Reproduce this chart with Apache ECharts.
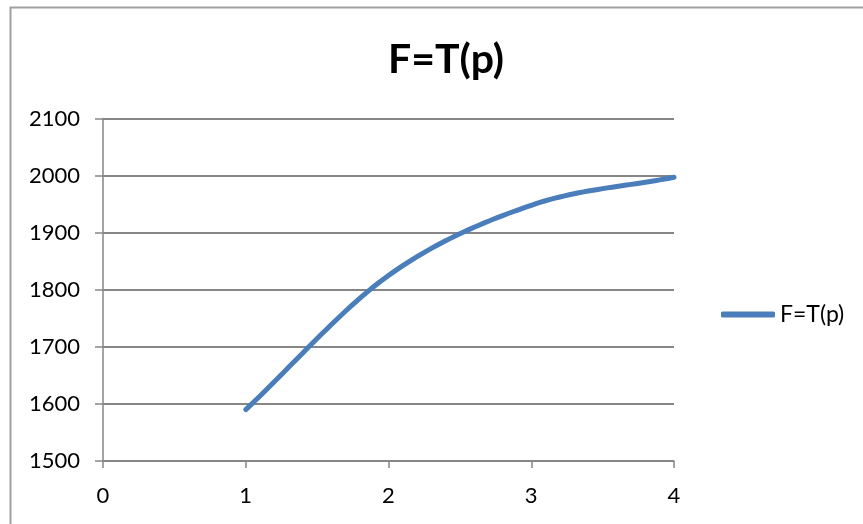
<!DOCTYPE html>
<html>
<head>
<meta charset="utf-8">
<script src="https://cdn.jsdelivr.net/npm/echarts@6/dist/echarts.min.js"></script>
<style>html,body{margin:0;padding:0;background:#fff}#c{width:863px;height:524px}</style>
</head>
<body>
<div id="c"></div>
<script>
const titleText = 'F=T(p)';
const seriesName = 'F=T(p)';
const xValues = [1, 2, 3, 4];
const yValues = [1590, 1825, 1948, 1997];
const xTicks = [0, 1, 2, 3, 4];
const yTicks = [1500, 1600, 1700, 1800, 1900, 2000, 2100];

const chart = echarts.init(document.getElementById('c'), null, {renderer: 'canvas'});
const font = 'Lato, "Open Sans", sans-serif';
const axisGray = '#868686';
const lineColor = '#4a7ebb';

// Smooth (Excel-like) curve through the data points, drawn via the chart's own coordinate system
function renderCurve(params, api) {
  if (params.dataIndex !== 0) return null;
  const n = xValues.length;
  const m = [];
  for (let i = 0; i < n; i++) {
    const a = Math.max(0, i - 1), b = Math.min(n - 1, i + 1);
    m.push((yValues[b] - yValues[a]) / (xValues[b] - xValues[a]));
  }
  const pts = [];
  const steps = 30;
  for (let i = 0; i < n - 1; i++) {
    const h = xValues[i + 1] - xValues[i];
    for (let s = 0; s <= steps; s++) {
      if (i > 0 && s === 0) continue;
      const t = s / steps;
      const h00 = 2*t*t*t - 3*t*t + 1, h10 = t*t*t - 2*t*t + t;
      const h01 = -2*t*t*t + 3*t*t, h11 = t*t*t - t*t;
      const x = xValues[i] + t * h;
      const y = h00*yValues[i] + h10*h*m[i] + h01*yValues[i+1] + h11*h*m[i+1];
      pts.push(api.coord([x, y]));
    }
  }
  return {
    type: 'polyline',
    shape: {points: pts},
    style: {stroke: lineColor, lineWidth: 5, fill: null, lineCap: 'round', lineJoin: 'round'}
  };
}

chart.setOption({
  backgroundColor: '#fff',
  animation: false,
  graphic: [{
    type: 'rect', left: 8, top: 5,
    shape: {width: 900, height: 600},
    style: {fill: 'none', stroke: '#a0a0a0', lineWidth: 2},
    silent: true, z: -1
  }],
  title: {
    text: titleText, left: 441, top: 34, textAlign: 'center',
    textStyle: {fontFamily: font, fontWeight: 'bold', fontSize: 41, color: '#000'}
  },
  legend: {
    data: [{name: seriesName, icon: 'roundRect'}], left: 721, top: 303, orient: 'vertical',
    padding: 0,
    itemWidth: 54, itemHeight: 6, itemGap: 0,
    itemStyle: {color: lineColor},
    textStyle: {fontFamily: font, fontSize: 23, color: '#000', padding: [0,0,0,0]}
  },
  grid: {left: 103, right: 189, top: 118.5, bottom: 63, containLabel: false},
  xAxis: {
    type: 'value', min: xTicks[0], max: xTicks[xTicks.length - 1], interval: 1,
    axisLine: {show: true, onZero: false, lineStyle: {color: axisGray, width: 1.5}},
    axisTick: {show: true, length: 7, lineStyle: {color: axisGray, width: 1.5}},
    axisLabel: {margin: 24, fontFamily: font, fontSize: 22, color: '#000'},
    splitLine: {show: false}
  },
  yAxis: {
    type: 'value', min: yTicks[0], max: yTicks[yTicks.length - 1], interval: 100,
    axisLine: {show: true, lineStyle: {color: axisGray, width: 1.5}},
    axisTick: {show: true, length: 8, lineStyle: {color: axisGray, width: 1.5}},
    axisLabel: {margin: 23, fontFamily: font, fontSize: 22, color: '#000', formatter: v => String(v)},
    splitLine: {show: true, lineStyle: {color: axisGray, width: 2}}
  },
  series: [{
    name: seriesName, type: 'custom',
    renderItem: renderCurve,
    data: xValues.map((x, i) => [x, yValues[i]]),
    encode: {x: 0, y: 1},
    itemStyle: {color: lineColor},
    clip: false
  }]
});
</script>
</body>
</html>
